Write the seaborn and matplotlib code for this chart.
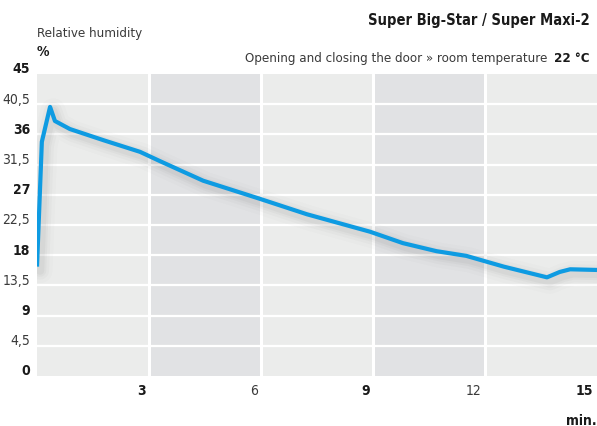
import matplotlib
matplotlib.use("Agg")
import matplotlib.pyplot as plt
import matplotlib.transforms as mtransforms
import numpy as np
import pandas as pd
import seaborn as sns

# Relative humidity inside the cabinet after opening and closing the door
minutes = [0.0, 0.13, 0.35, 0.48, 0.88, 1.8, 2.76, 3.3, 4.45, 5.97, 7.23,
           8.92, 9.8, 10.7, 11.5, 12.5, 13.66, 14.0, 14.28, 15.0]
humidity = [16.3, 34.9, 40.1, 38.0, 36.8, 35.1, 33.4, 32.0, 29.1, 26.4, 24.1,
            21.5, 19.8, 18.6, 17.9, 16.3, 14.7, 15.5, 15.9, 15.8]

y_ticks = [0, 4.5, 9, 13.5, 18, 22.5, 27, 31.5, 36, 40.5, 45]
y_tick_labels = ["0", "4,5", "9", "13,5", "18", "22,5", "27", "31,5", "36", "40,5", "45"]
y_bold = [True, False, True, False, True, False, True, False, True, False, True]
x_ticks = [3, 6, 9, 12, 15]
x_tick_labels = ["3", "6", "9", "12", "15"]
x_bold = [True, False, True, False, True]
shaded_bands = [(3, 6), (9, 12)]

title = "Super Big-Star / Super Maxi-2"
subtitle = "Opening and closing the door » room temperature "
subtitle_bold = "22 °C"
y_title = "Relative humidity"
y_unit = "%"
x_unit = "min."

sns.set_theme(style="white")
plt.rcParams["font.family"] = ["DejaVu Sans"]
plt.rcParams["font.stretch"] = "condensed"

LIGHT_BG = "#ebeceb"
DARK_BG = "#e1e2e4"
LINE_BLUE = "#0e9be2"
TEXT = "#1a1a1a"
TEXT_LIGHT = "#3a3a3a"

df = pd.DataFrame({"minutes": minutes, "humidity": humidity})

fig = plt.figure(figsize=(5.97, 4.27), dpi=100)
W, H = 597, 427
ax = fig.add_axes([37 / W, 50 / H, 560 / W, 302 / H])
ax.set_facecolor(LIGHT_BG)
for a, b in shaded_bands:
    ax.axvspan(a, b, color=DARK_BG, lw=0, zorder=0)

ax.set_xlim(0, 15)
ax.set_ylim(0, 45)
for s in ax.spines.values():
    s.set_visible(False)

# white grid
for yv in y_ticks[1:-1]:
    ax.axhline(yv, color="white", lw=1.6, zorder=1)
for xv in x_ticks[:-1]:
    ax.axvline(xv, color="white", lw=2.2, zorder=1)

# soft drop shadow beneath the curve
for lw, alpha in [(18, 0.02), (13, 0.03), (9, 0.04), (6, 0.05)]:
    shadow = mtransforms.offset_copy(ax.transData, fig=fig, x=3, y=-4, units="dots")
    ax.plot(minutes, humidity, color="#555555", lw=lw, alpha=alpha,
            solid_capstyle="round", solid_joinstyle="round",
            transform=shadow, zorder=2)

sns.lineplot(data=df, x="minutes", y="humidity", sort=False, estimator=None,
             color=LINE_BLUE, lw=3.0, ax=ax, zorder=3,
             solid_joinstyle="round", solid_capstyle="butt")
ax.set_xlabel("")
ax.set_ylabel("")

# tick labels
ax.set_yticks(y_ticks)
ax.set_yticklabels(y_tick_labels)
ax.set_xticks(x_ticks)
ax.set_xticklabels(x_tick_labels)
ax.tick_params(axis="both", length=0)
ax.tick_params(axis="y", pad=5)
ax.tick_params(axis="x", pad=5)

up = mtransforms.ScaledTranslation(0, 4 / 72, fig.dpi_scale_trans)
for lab, b in zip(ax.get_yticklabels(), y_bold):
    lab.set_fontsize(10)
    lab.set_fontweight("bold" if b else "normal")
    lab.set_color(TEXT if b else TEXT_LIGHT)
    lab.set_verticalalignment("center")
    lab.set_transform(lab.get_transform() + up)

left = mtransforms.ScaledTranslation(-2.5 / 72, 0, fig.dpi_scale_trans)
for lab, b in zip(ax.get_xticklabels(), x_bold):
    lab.set_fontsize(10)
    lab.set_fontweight("bold" if b else "normal")
    lab.set_color(TEXT if b else TEXT_LIGHT)
    lab.set_horizontalalignment("right")
    lab.set_transform(lab.get_transform() + left)

# headings
fig.text(590 / W, 1 - 20 / H, title, ha="right", va="center",
         fontsize=10.5, fontweight="bold", color=TEXT)
bold_t = fig.text(590 / W, 1 - 59 / H, subtitle_bold, ha="right", va="center",
                  fontsize=9.5, fontweight="bold", color=TEXT)
renderer = fig.canvas.get_renderer()
bb = bold_t.get_window_extent(renderer)
fig.text(bb.x0 / W - 3 / W, 1 - 59 / H, subtitle, ha="right", va="center",
         fontsize=9.5, color=TEXT_LIGHT)

fig.text(37 / W, 1 - 34 / H, y_title, ha="left", va="center",
         fontsize=9.5, color=TEXT_LIGHT)
fig.text(37 / W, 1 - 52 / H, y_unit, ha="left", va="center",
         fontsize=10, fontweight="bold", color=TEXT)
fig.text(597 / W, 1 - 421 / H, x_unit, ha="right", va="center",
         fontsize=10, fontweight="bold", color=TEXT)

fig.savefig("out.png", dpi=100, facecolor="white")
